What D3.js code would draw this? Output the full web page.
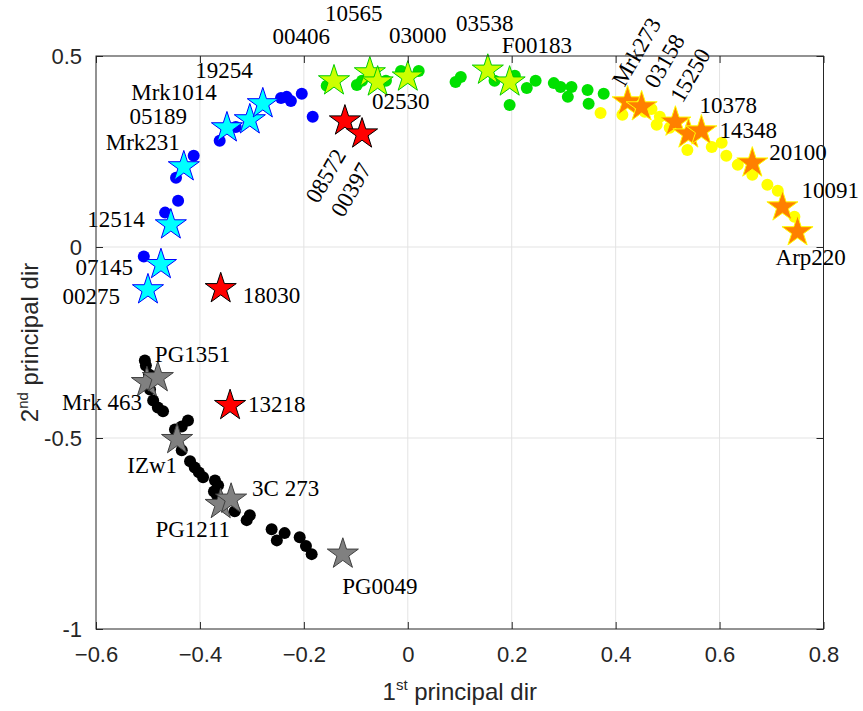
<!DOCTYPE html>
<html>
<head>
<meta charset="utf-8">
<script src="https://cdn.jsdelivr.net/npm/d3@7"></script>
<style>
  html, body { margin: 0; padding: 0; background: #fff; }
  svg { display: block; }
</style>
</head>
<body>
<svg id="chart" width="863" height="711"></svg>
<script>
// ---- data: galaxy spectra projected on the first two principal directions ----
const xTicks = [-0.6, -0.4, -0.2, 0, 0.2, 0.4, 0.6, 0.8];
const yTicks = [-1, -0.5, 0, 0.5];
const yTickLabels = ["-1", "-0.5", "0", "0.5"];

const blueDots = [
  [-0.508, -0.025], [-0.467, 0.090], [-0.442, 0.121], [-0.446, 0.181],
  [-0.412, 0.239], [-0.362, 0.278], [-0.331, 0.314], [-0.244, 0.390],
  [-0.233, 0.393], [-0.225, 0.382], [-0.204, 0.401], [-0.183, 0.341]
];
const greenDots = [
  [-0.156, 0.422], [-0.098, 0.424], [-0.088, 0.435], [-0.042, 0.435],
  [-0.013, 0.461], [0.021, 0.461], [0.092, 0.432], [0.102, 0.445],
  [0.167, 0.435], [0.196, 0.372], [0.206, 0.448], [0.229, 0.416],
  [0.246, 0.435], [0.281, 0.429], [0.294, 0.419], [0.308, 0.393],
  [0.315, 0.419], [0.346, 0.411], [0.348, 0.375], [0.377, 0.401]
];
const yellowDots = [
  [0.371, 0.351], [0.413, 0.346], [0.456, 0.354], [0.469, 0.361],
  [0.485, 0.341], [0.479, 0.320], [0.504, 0.312], [0.538, 0.254],
  [0.585, 0.262], [0.604, 0.273], [0.613, 0.239], [0.635, 0.215],
  [0.663, 0.189], [0.692, 0.163], [0.712, 0.147], [0.744, 0.079]
];
const blackDots = [
  [-0.506, -0.297], [-0.504, -0.310], [-0.498, -0.334], [-0.496, -0.373],
  [-0.490, -0.402], [-0.481, -0.420], [-0.471, -0.430], [-0.448, -0.478],
  [-0.435, -0.470], [-0.423, -0.454], [-0.435, -0.532], [-0.419, -0.561],
  [-0.410, -0.577], [-0.402, -0.590], [-0.394, -0.603], [-0.371, -0.611],
  [-0.365, -0.624], [-0.373, -0.640], [-0.367, -0.650], [-0.358, -0.666],
  [-0.333, -0.692], [-0.310, -0.715], [-0.304, -0.702], [-0.262, -0.739],
  [-0.252, -0.768], [-0.237, -0.749], [-0.208, -0.760], [-0.196, -0.783],
  [-0.185, -0.804]
];

const cyanStars = [
  { name: "00275", x: -0.500, y: -0.112 },
  { name: "07145", x: -0.475, y: -0.046 },
  { name: "12514", x: -0.456, y: 0.058 },
  { name: "Mrk231", x: -0.431, y: 0.210 },
  { name: "05189", x: -0.348, y: 0.312 },
  { name: "Mrk1014", x: -0.304, y: 0.333 },
  { name: "19254", x: -0.279, y: 0.375 }
];
const limeStars = [
  { name: "00406", x: -0.142, y: 0.435 },
  { name: "10565", x: -0.073, y: 0.456 },
  { name: "02530", x: -0.058, y: 0.432 },
  { name: "03000", x: 0.000, y: 0.445 },
  { name: "03538", x: 0.154, y: 0.463 },
  { name: "F00183", x: 0.196, y: 0.432 }
];
const redStars = [
  { name: "08572", x: -0.121, y: 0.330 },
  { name: "00397", x: -0.088, y: 0.296 },
  { name: "18030", x: -0.360, y: -0.109 },
  { name: "13218", x: -0.342, y: -0.415 }
];
const orangeStars = [
  { name: "Mrk273", x: 0.423, y: 0.380 },
  { name: "03158", x: 0.450, y: 0.367 },
  { name: "15250", x: 0.515, y: 0.327 },
  { name: "14348", x: 0.540, y: 0.296 },
  { name: "10378", x: 0.565, y: 0.304 },
  { name: "20100", x: 0.663, y: 0.220 },
  { name: "10091", x: 0.721, y: 0.105 },
  { name: "Arp220", x: 0.750, y: 0.040 }
];
const grayStars = [
  { name: "Mrk 463", x: -0.502, y: -0.355 },
  { name: "PG1351", x: -0.481, y: -0.342 },
  { name: "IZw1", x: -0.444, y: -0.504 },
  { name: "PG1211", x: -0.360, y: -0.674 },
  { name: "3C 273", x: -0.340, y: -0.660 },
  { name: "PG0049", x: -0.125, y: -0.804 }
];

// ---- label placement (pixel offsets from the star, text anchor, rotation) ----
const labelPlacement = {
  "19254":  { dx: -10, dy: -26, a: "end" },
  "Mrk1014":{ dx: -33, dy: -20, a: "end" },
  "05189":  { dx: -40, dy: -4,  a: "end" },
  "Mrk231": { dx: -4,  dy: -17, a: "end" },
  "12514":  { dx: -26, dy: 2,   a: "end" },
  "07145":  { dx: -28, dy: 10,  a: "end" },
  "00275":  { dx: -28, dy: 14,  a: "end" },
  "00406":  { dx: -4,  dy: -37, a: "end" },
  "10565":  { dx: -16, dy: -52, a: "middle" },
  "03000":  { dx: 10,  dy: -34, a: "middle" },
  "03538":  { dx: -3,  dy: -39, a: "middle" },
  "F00183": { dx: -8,  dy: -29, a: "start" },
  "02530":  { dx: 23,  dy: 27,  a: "middle" },
  "18030":  { dx: 22,  dy: 14,  a: "start" },
  "13218":  { dx: 18,  dy: 6,   a: "start" },
  "08572":  { dx: -19, dy: 55,  a: "middle", r: -60, c: true },
  "00397":  { dx: -11, dy: 56,  a: "middle", r: -60, c: true },
  "PG1351": { dx: -3,  dy: -16, a: "start" },
  "Mrk 463":{ dx: -5,  dy: 27,  a: "end" },
  "IZw1":   { dx: 0,   dy: 33,  a: "end" },
  "3C 273": { dx: 21,  dy: -3,  a: "start" },
  "PG1211": { dx: -28, dy: 33,  a: "middle" },
  "PG0049": { dx: 37,  dy: 40,  a: "middle" },
  "Mrk273": { dx: -3,  dy: -14, a: "start", r: -60 },
  "03158":  { dx: 15,  dy: -17, a: "start", r: -60 },
  "15250":  { dx: 7,   dy: -18, a: "start", r: -60 },
  "10378":  { dx: -2,  dy: -18, a: "start" },
  "14348":  { dx: 31,  dy: 4,   a: "start" },
  "20100":  { dx: 17,  dy: -3,  a: "start" },
  "10091":  { dx: 19,  dy: -9,  a: "start" },
  "Arp220": { dx: -22, dy: 33,  a: "start" }
};

// ---- layout ----
const svg = d3.select("#chart");
const plot = { left: 96, right: 823.5, top: 56, bottom: 629 };
const x = d3.scaleLinear().domain([-0.6, 0.8]).range([plot.left, plot.right]);
const y = d3.scaleLinear().domain([-1, 0.5]).range([plot.bottom, plot.top]);

const axisColor = "#262626";
const tickFont = "'Liberation Sans', Arial, sans-serif";
const labelFont = "'Liberation Serif', 'DejaVu Serif', serif";

svg.append("rect").attr("width", 863).attr("height", 711).attr("fill", "#fff");

// grid lines
const grid = svg.append("g").attr("stroke", "#e3e3e3").attr("stroke-width", 1);
grid.selectAll(".gx").data(xTicks.slice(1, -1)).join("line")
  .attr("x1", d => x(d)).attr("x2", d => x(d))
  .attr("y1", plot.top).attr("y2", plot.bottom);
grid.selectAll(".gy").data(yTicks.slice(1, -1)).join("line")
  .attr("x1", plot.left).attr("x2", plot.right)
  .attr("y1", d => y(d)).attr("y2", d => y(d));

// axes with inward ticks
const tickLen = 7;
const xAxisBottom = d3.axisBottom(x).tickValues(xTicks).tickSizeInner(-tickLen).tickSizeOuter(0)
  .tickPadding(tickLen + 10).tickFormat(d3.format(""));
const yAxisLeft = d3.axisLeft(y).tickValues(yTicks).tickSizeInner(-tickLen).tickSizeOuter(0)
  .tickPadding(tickLen + 7).tickFormat((d, i) => yTickLabels[i]);
const xAxisTop = d3.axisTop(x).tickValues(xTicks).tickSizeInner(-tickLen).tickSizeOuter(0).tickFormat("");
const yAxisRight = d3.axisRight(y).tickValues(yTicks).tickSizeInner(-tickLen).tickSizeOuter(0).tickFormat("");

function styleAxis(g) {
  g.select(".domain").remove();
  g.selectAll(".tick line").attr("stroke", axisColor);
  g.selectAll(".tick text").attr("fill", axisColor)
    .style("font-family", tickFont).style("font-size", "22px");
}

// scatter dots
function drawDots(data, color) {
  svg.append("g").selectAll("circle").data(data).join("circle")
    .attr("cx", d => x(d[0])).attr("cy", d => y(d[1]))
    .attr("r", 6).attr("fill", color);
}
drawDots(blueDots, "#0000ff");
drawDots(greenDots, "#00e000");
drawDots(yellowDots, "#ffff00");
drawDots(blackDots, "#000000");

// stars
const star = d3.symbol().type(d3.symbolStar).size(300);
function drawStars(data, fill, stroke) {
  svg.append("g").selectAll("path").data(data).join("path")
    .attr("d", star)
    .attr("transform", d => `translate(${x(d.x)},${y(d.y)})`)
    .attr("fill", fill).attr("stroke", stroke).attr("stroke-width", 1);
}
drawStars(cyanStars, "#00ffff", "#0000ff");
drawStars(limeStars, "#ccff00", "#00cc00");
drawStars(redStars, "#ff0000", "#000000");
drawStars(orangeStars, "#ff8000", "#ffff00");
drawStars(grayStars, "#808080", "#404040");

// star labels
const allStars = [].concat(cyanStars, limeStars, redStars, orangeStars, grayStars);
svg.append("g").selectAll("text").data(allStars).join("text")
  .attr("transform", d => {
    const p = labelPlacement[d.name];
    const tx = x(d.x) + p.dx, ty = y(d.y) + p.dy;
    return `translate(${tx},${ty})` + (p.r ? ` rotate(${p.r})` : "");
  })
  .attr("text-anchor", d => labelPlacement[d.name].a)
  .attr("dominant-baseline", d => labelPlacement[d.name].c ? "central" : "alphabetic")
  .style("font-family", labelFont).style("font-size", "23px").attr("fill", "#000")
  .text(d => d.name);

// axes and frame on top
svg.append("g").attr("transform", `translate(0,${plot.bottom})`).call(xAxisBottom).call(styleAxis);
svg.append("g").attr("transform", `translate(${plot.left},0)`).call(yAxisLeft).call(styleAxis);
svg.append("g").attr("transform", `translate(0,${plot.top})`).call(xAxisTop).call(styleAxis);
svg.append("g").attr("transform", `translate(${plot.right},0)`).call(yAxisRight).call(styleAxis);
svg.append("rect")
  .attr("x", plot.left).attr("y", plot.top)
  .attr("width", plot.right - plot.left).attr("height", plot.bottom - plot.top)
  .attr("fill", "none").attr("stroke", axisColor).attr("stroke-width", 1);

// axis titles
const xTitle = svg.append("text")
  .attr("x", (plot.left + plot.right) / 2).attr("y", 700)
  .attr("text-anchor", "middle").attr("fill", axisColor)
  .style("font-family", tickFont).style("font-size", "24px");
xTitle.append("tspan").text("1");
xTitle.append("tspan").attr("dy", -10).style("font-size", "15px").text("st");
xTitle.append("tspan").attr("dy", 10).text(" principal dir");

const yTitle = svg.append("text")
  .attr("transform", `translate(38,${(plot.top + plot.bottom) / 2}) rotate(-90)`)
  .attr("text-anchor", "middle").attr("fill", axisColor)
  .style("font-family", tickFont).style("font-size", "24px");
yTitle.append("tspan").text("2");
yTitle.append("tspan").attr("dy", -10).style("font-size", "15px").text("nd");
yTitle.append("tspan").attr("dy", 10).text(" principal dir");
</script>
</body>
</html>
